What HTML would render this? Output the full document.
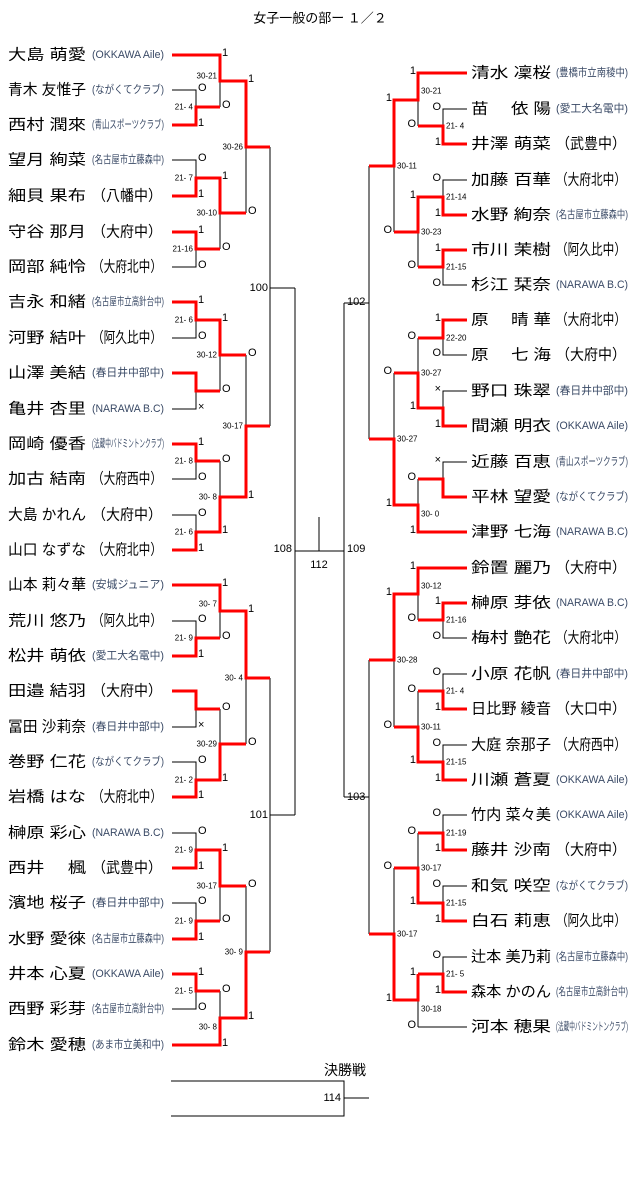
<!DOCTYPE html>
<html><head><meta charset="utf-8"><style>
body{margin:0;background:#fff}
svg{display:block}
text{font-family:"Liberation Sans","Noto Sans CJK JP",sans-serif;dominant-baseline:central}
.n{font-size:15px;fill:#000}
.c{font-size:11px;fill:#3a4a66}
.cb{font-size:15px;fill:#000}
.m{font-size:11px;fill:#000}
.s{font-size:8px;fill:#000}
.l{font-size:11px;fill:#000}
</style></head><body>
<svg width="640" height="1177" viewBox="0 0 640 1177">
<text x="320" y="18" text-anchor="middle" style="font-size:13px">女子一般の部ー １／２</text>

<!-- black skeleton -->
<g stroke="#000" stroke-width="1" fill="none">
<!-- left first round pairs -->
<path d="M172 90H196V125H172M196 107H220 M172 160H196V196H172M196 178H220 M172 232H196V267H172M196 249H220
M172 302H196V338H172M196 320H220 M172 373H196V409H172M196 391H220 M172 444H196V479H172M196 461H220 M172 515H196V550H172M196 532H220
M172 621H196V656H172M196 638H220 M172 691H196V727H172M196 709H220 M172 762H196V797H172M196 780H220
M172 833H196V868H172M196 850H220 M172 903H196V939H172M196 921H220 M172 974H196V1009H172M196 991H220
M172 55H220 M172 585H220 M172 1045H220
M220 55V107 M220 178V249 M220 320V391 M220 461V532 M220 585V638 M220 709V780 M220 850V921 M220 991V1045
M220 81H246 M220 213H246 M220 355H246 M220 497H246 M220 611H246 M220 744H246 M220 886H246 M220 1018H246
M246 81V213 M246 355V497 M246 611V744 M246 886V1018
M246 147H270 M246 426H270 M246 678H270 M246 952H270
M270 147V426 M270 678V952 M270 288H295 M270 815H295
M295 288V815 M295 551H344 M319 517V551 M344 303V797
M369 303H344 M369 797H344 M369 166V439 M369 660V934
M394 100V232 M394 373V505 M394 594V727 M394 868V1000
M394 166H369 M394 439H369 M394 660H369 M394 934H369
M418 73V126 M418 197V267 M418 338V408 M418 479V532 M418 568V620 M418 691V762 M418 833V903 M418 974V1027
M418 100H394 M418 232H394 M418 373H394 M418 505H394 M418 594H394 M418 727H394 M418 868H394 M418 1000H394
M467 73H418 M467 532H418 M467 568H418 M467 1027H418
M467 109H443V144H467M443 126H418 M467 180H443V215H467M443 197H418 M467 250H443V285H467M443 267H418
M467 320H443V355H467M443 338H418 M467 391H443V426H467M443 408H418 M467 462H443V497H467M443 479H418
M467 603H443V638H467M443 620H418 M467 674H443V709H467M443 691H418 M467 745H443V780H467M443 762H418
M467 815H443V850H467M443 833H418 M467 886H443V921H467M443 903H418 M467 957H443V992H467M443 974H418
M171 1081H344V1116H171 M344 1098H369"/>
</g>

<!-- red winner paths -->
<g stroke="#ff0000" stroke-width="3" fill="none" stroke-linejoin="miter">
<path d="M172 55H220V81H246V147H270 M172 125H196V107H220 M172 196H196V178H220V213H246 M172 232H196V249H220
M172 302H196V320H220V355H246 M172 373H196V391H220 M172 444H196V461H220 M172 550H196V532H220V497H246V426H270
M172 585H220V611H246V678H270 M172 656H196V638H220 M172 691H196V709H220 M172 797H196V780H220V744H246
M172 868H196V850H220V886H246 M172 939H196V921H220 M172 974H196V991H220 M172 1045H220V1018H246V952H270
M467 73H418V100H394V166H369 M467 144H443V126H418 M467 215H443V197H418V232H394 M467 250H443V267H418
M467 320H443V338H418 M467 426H443V408H418V373H394 M467 497H443V479H418 M467 532H418V505H394V439H369
M467 568H418V594H394V660H369 M467 603H443V620H418 M467 709H443V691H418 M467 780H443V762H418V727H394
M467 850H443V833H418 M467 921H443V903H418V868H394 M467 992H443V974H418 M418 974V1000H394V934H369"/>
</g>

<!-- left names -->
<g>
<text class="n" x="8" y="55" textLength="78" lengthAdjust="spacingAndGlyphs">大島 萌愛</text><text class="c" x="92" y="55" textLength="72" lengthAdjust="spacingAndGlyphs">(OKKAWA Aile)</text>
<text class="n" x="8" y="90" textLength="78" lengthAdjust="spacingAndGlyphs">青木 友惟子</text><text class="c" x="92" y="90" textLength="72" lengthAdjust="spacingAndGlyphs">(ながくてクラブ)</text>
<text class="n" x="8" y="125" textLength="78" lengthAdjust="spacingAndGlyphs">西村 潤來</text><text class="c" x="92" y="125" textLength="72" lengthAdjust="spacingAndGlyphs">(青山スポーツクラブ)</text>
<text class="n" x="8" y="160" textLength="78" lengthAdjust="spacingAndGlyphs">望月 絢菜</text><text class="c" x="92" y="160" textLength="72" lengthAdjust="spacingAndGlyphs">(名古屋市立藤森中)</text>
<text class="n" x="8" y="196" textLength="78" lengthAdjust="spacingAndGlyphs">細貝 果布</text><text class="cb" x="92" y="196" textLength="70" lengthAdjust="spacingAndGlyphs">（八幡中）</text>
<text class="n" x="8" y="232" textLength="78" lengthAdjust="spacingAndGlyphs">守谷 那月</text><text class="cb" x="92" y="232" textLength="70" lengthAdjust="spacingAndGlyphs">（大府中）</text>
<text class="n" x="8" y="267" textLength="78" lengthAdjust="spacingAndGlyphs">岡部 純怜</text><text class="cb" x="92" y="267" textLength="70" lengthAdjust="spacingAndGlyphs">（大府北中）</text>
<text class="n" x="8" y="302" textLength="78" lengthAdjust="spacingAndGlyphs">吉永 和緒</text><text class="c" x="92" y="302" textLength="72" lengthAdjust="spacingAndGlyphs">(名古屋市立高針台中)</text>
<text class="n" x="8" y="338" textLength="78" lengthAdjust="spacingAndGlyphs">河野 結叶</text><text class="cb" x="92" y="338" textLength="70" lengthAdjust="spacingAndGlyphs">（阿久比中）</text>
<text class="n" x="8" y="373" textLength="78" lengthAdjust="spacingAndGlyphs">山澤 美結</text><text class="c" x="92" y="373" textLength="72" lengthAdjust="spacingAndGlyphs">(春日井中部中)</text>
<text class="n" x="8" y="409" textLength="78" lengthAdjust="spacingAndGlyphs">亀井 杏里</text><text class="c" x="92" y="409" textLength="72" lengthAdjust="spacingAndGlyphs">(NARAWA B.C)</text>
<text class="n" x="8" y="444" textLength="78" lengthAdjust="spacingAndGlyphs">岡崎 優香</text><text class="c" x="92" y="444" textLength="72" lengthAdjust="spacingAndGlyphs">(法蔵中バドミントンクラブ)</text>
<text class="n" x="8" y="479" textLength="78" lengthAdjust="spacingAndGlyphs">加古 結南</text><text class="cb" x="92" y="479" textLength="70" lengthAdjust="spacingAndGlyphs">（大府西中）</text>
<text class="n" x="8" y="515" textLength="78" lengthAdjust="spacingAndGlyphs">大島 かれん</text><text class="cb" x="92" y="515" textLength="70" lengthAdjust="spacingAndGlyphs">（大府中）</text>
<text class="n" x="8" y="550" textLength="78" lengthAdjust="spacingAndGlyphs">山口 なずな</text><text class="cb" x="92" y="550" textLength="70" lengthAdjust="spacingAndGlyphs">（大府北中）</text>
<text class="n" x="8" y="585" textLength="78" lengthAdjust="spacingAndGlyphs">山本 莉々華</text><text class="c" x="92" y="585" textLength="72" lengthAdjust="spacingAndGlyphs">(安城ジュニア)</text>
<text class="n" x="8" y="621" textLength="78" lengthAdjust="spacingAndGlyphs">荒川 悠乃</text><text class="cb" x="92" y="621" textLength="70" lengthAdjust="spacingAndGlyphs">（阿久比中）</text>
<text class="n" x="8" y="656" textLength="78" lengthAdjust="spacingAndGlyphs">松井 萌依</text><text class="c" x="92" y="656" textLength="72" lengthAdjust="spacingAndGlyphs">(愛工大名電中)</text>
<text class="n" x="8" y="691" textLength="78" lengthAdjust="spacingAndGlyphs">田邉 結羽</text><text class="cb" x="92" y="691" textLength="70" lengthAdjust="spacingAndGlyphs">（大府中）</text>
<text class="n" x="8" y="727" textLength="78" lengthAdjust="spacingAndGlyphs">冨田 沙莉奈</text><text class="c" x="92" y="727" textLength="72" lengthAdjust="spacingAndGlyphs">(春日井中部中)</text>
<text class="n" x="8" y="762" textLength="78" lengthAdjust="spacingAndGlyphs">巻野 仁花</text><text class="c" x="92" y="762" textLength="72" lengthAdjust="spacingAndGlyphs">(ながくてクラブ)</text>
<text class="n" x="8" y="797" textLength="78" lengthAdjust="spacingAndGlyphs">岩橋 はな</text><text class="cb" x="92" y="797" textLength="70" lengthAdjust="spacingAndGlyphs">（大府北中）</text>
<text class="n" x="8" y="833" textLength="78" lengthAdjust="spacingAndGlyphs">榊原 彩心</text><text class="c" x="92" y="833" textLength="72" lengthAdjust="spacingAndGlyphs">(NARAWA B.C)</text>
<text class="n" x="8" y="868" textLength="78" lengthAdjust="spacingAndGlyphs">西井　 楓</text><text class="cb" x="92" y="868" textLength="70" lengthAdjust="spacingAndGlyphs">（武豊中）</text>
<text class="n" x="8" y="903" textLength="78" lengthAdjust="spacingAndGlyphs">濱地 桜子</text><text class="c" x="92" y="903" textLength="72" lengthAdjust="spacingAndGlyphs">(春日井中部中)</text>
<text class="n" x="8" y="939" textLength="78" lengthAdjust="spacingAndGlyphs">水野 愛徠</text><text class="c" x="92" y="939" textLength="72" lengthAdjust="spacingAndGlyphs">(名古屋市立藤森中)</text>
<text class="n" x="8" y="974" textLength="78" lengthAdjust="spacingAndGlyphs">井本 心夏</text><text class="c" x="92" y="974" textLength="72" lengthAdjust="spacingAndGlyphs">(OKKAWA Aile)</text>
<text class="n" x="8" y="1009" textLength="78" lengthAdjust="spacingAndGlyphs">西野 彩芽</text><text class="c" x="92" y="1009" textLength="72" lengthAdjust="spacingAndGlyphs">(名古屋市立高針台中)</text>
<text class="n" x="8" y="1045" textLength="78" lengthAdjust="spacingAndGlyphs">鈴木 愛穂</text><text class="c" x="92" y="1045" textLength="72" lengthAdjust="spacingAndGlyphs">(あま市立美和中)</text>
</g>

<!-- right names -->
<g>
<text class="n" x="471" y="73" textLength="80" lengthAdjust="spacingAndGlyphs">清水 凜桜</text><text class="c" x="556" y="73" textLength="72" lengthAdjust="spacingAndGlyphs">(豊橋市立南稜中)</text>
<text class="n" x="471" y="109" textLength="80" lengthAdjust="spacingAndGlyphs">苗　 依 陽</text><text class="c" x="556" y="109" textLength="72" lengthAdjust="spacingAndGlyphs">(愛工大名電中)</text>
<text class="n" x="471" y="144" textLength="80" lengthAdjust="spacingAndGlyphs">井澤 萌菜</text><text class="cb" x="556" y="144" textLength="70" lengthAdjust="spacingAndGlyphs">（武豊中）</text>
<text class="n" x="471" y="180" textLength="80" lengthAdjust="spacingAndGlyphs">加藤 百華</text><text class="cb" x="556" y="180" textLength="70" lengthAdjust="spacingAndGlyphs">（大府北中）</text>
<text class="n" x="471" y="215" textLength="80" lengthAdjust="spacingAndGlyphs">水野 絢奈</text><text class="c" x="556" y="215" textLength="72" lengthAdjust="spacingAndGlyphs">(名古屋市立藤森中)</text>
<text class="n" x="471" y="250" textLength="80" lengthAdjust="spacingAndGlyphs">市川 茉樹</text><text class="cb" x="556" y="250" textLength="70" lengthAdjust="spacingAndGlyphs">（阿久比中）</text>
<text class="n" x="471" y="285" textLength="80" lengthAdjust="spacingAndGlyphs">杉江 栞奈</text><text class="c" x="556" y="285" textLength="72" lengthAdjust="spacingAndGlyphs">(NARAWA B.C)</text>
<text class="n" x="471" y="320" textLength="80" lengthAdjust="spacingAndGlyphs">原　 晴 華</text><text class="cb" x="556" y="320" textLength="70" lengthAdjust="spacingAndGlyphs">（大府北中）</text>
<text class="n" x="471" y="355" textLength="80" lengthAdjust="spacingAndGlyphs">原　 七 海</text><text class="cb" x="556" y="355" textLength="70" lengthAdjust="spacingAndGlyphs">（大府中）</text>
<text class="n" x="471" y="391" textLength="80" lengthAdjust="spacingAndGlyphs">野口 珠翠</text><text class="c" x="556" y="391" textLength="72" lengthAdjust="spacingAndGlyphs">(春日井中部中)</text>
<text class="n" x="471" y="426" textLength="80" lengthAdjust="spacingAndGlyphs">間瀬 明衣</text><text class="c" x="556" y="426" textLength="72" lengthAdjust="spacingAndGlyphs">(OKKAWA Aile)</text>
<text class="n" x="471" y="462" textLength="80" lengthAdjust="spacingAndGlyphs">近藤 百恵</text><text class="c" x="556" y="462" textLength="72" lengthAdjust="spacingAndGlyphs">(青山スポーツクラブ)</text>
<text class="n" x="471" y="497" textLength="80" lengthAdjust="spacingAndGlyphs">平林 望愛</text><text class="c" x="556" y="497" textLength="72" lengthAdjust="spacingAndGlyphs">(ながくてクラブ)</text>
<text class="n" x="471" y="532" textLength="80" lengthAdjust="spacingAndGlyphs">津野 七海</text><text class="c" x="556" y="532" textLength="72" lengthAdjust="spacingAndGlyphs">(NARAWA B.C)</text>
<text class="n" x="471" y="568" textLength="80" lengthAdjust="spacingAndGlyphs">鈴置 麗乃</text><text class="cb" x="556" y="568" textLength="70" lengthAdjust="spacingAndGlyphs">（大府中）</text>
<text class="n" x="471" y="603" textLength="80" lengthAdjust="spacingAndGlyphs">榊原 芽依</text><text class="c" x="556" y="603" textLength="72" lengthAdjust="spacingAndGlyphs">(NARAWA B.C)</text>
<text class="n" x="471" y="638" textLength="80" lengthAdjust="spacingAndGlyphs">梅村 艶花</text><text class="cb" x="556" y="638" textLength="70" lengthAdjust="spacingAndGlyphs">（大府北中）</text>
<text class="n" x="471" y="674" textLength="80" lengthAdjust="spacingAndGlyphs">小原 花帆</text><text class="c" x="556" y="674" textLength="72" lengthAdjust="spacingAndGlyphs">(春日井中部中)</text>
<text class="n" x="471" y="709" textLength="80" lengthAdjust="spacingAndGlyphs">日比野 綾音</text><text class="cb" x="556" y="709" textLength="70" lengthAdjust="spacingAndGlyphs">（大口中）</text>
<text class="n" x="471" y="745" textLength="80" lengthAdjust="spacingAndGlyphs">大庭 奈那子</text><text class="cb" x="556" y="745" textLength="70" lengthAdjust="spacingAndGlyphs">（大府西中）</text>
<text class="n" x="471" y="780" textLength="80" lengthAdjust="spacingAndGlyphs">川瀬 蒼夏</text><text class="c" x="556" y="780" textLength="72" lengthAdjust="spacingAndGlyphs">(OKKAWA Aile)</text>
<text class="n" x="471" y="815" textLength="80" lengthAdjust="spacingAndGlyphs">竹内 菜々美</text><text class="c" x="556" y="815" textLength="72" lengthAdjust="spacingAndGlyphs">(OKKAWA Aile)</text>
<text class="n" x="471" y="850" textLength="80" lengthAdjust="spacingAndGlyphs">藤井 沙南</text><text class="cb" x="556" y="850" textLength="70" lengthAdjust="spacingAndGlyphs">（大府中）</text>
<text class="n" x="471" y="886" textLength="80" lengthAdjust="spacingAndGlyphs">和気 咲空</text><text class="c" x="556" y="886" textLength="72" lengthAdjust="spacingAndGlyphs">(ながくてクラブ)</text>
<text class="n" x="471" y="921" textLength="80" lengthAdjust="spacingAndGlyphs">白石 莉恵</text><text class="cb" x="556" y="921" textLength="70" lengthAdjust="spacingAndGlyphs">（阿久比中）</text>
<text class="n" x="471" y="957" textLength="80" lengthAdjust="spacingAndGlyphs">辻本 美乃莉</text><text class="c" x="556" y="957" textLength="72" lengthAdjust="spacingAndGlyphs">(名古屋市立藤森中)</text>
<text class="n" x="471" y="992" textLength="80" lengthAdjust="spacingAndGlyphs">森本 かのん</text><text class="c" x="556" y="992" textLength="72" lengthAdjust="spacingAndGlyphs">(名古屋市立高針台中)</text>
<text class="n" x="471" y="1027" textLength="80" lengthAdjust="spacingAndGlyphs">河本 穂果</text><text class="c" x="556" y="1027" textLength="72" lengthAdjust="spacingAndGlyphs">(法蔵中バドミントンクラブ)</text>
</g>

<!-- left marks -->
<g class="m">
<text class="m" x="222" y="53">1</text><text class="m" x="198" y="88">O</text><text class="m" x="198" y="123">1</text><text class="m" x="222" y="105">O</text>
<text class="m" x="248" y="79">1</text><text class="m" x="248" y="211">O</text>
<text class="m" x="198" y="158">O</text><text class="m" x="198" y="194">1</text><text class="m" x="222" y="176">1</text>
<text class="m" x="198" y="230">1</text><text class="m" x="198" y="265">O</text><text class="m" x="222" y="247">O</text>
<text class="m" x="198" y="300">1</text><text class="m" x="198" y="336">O</text><text class="m" x="222" y="318">1</text>
<text class="m" x="198" y="407">×</text><text class="m" x="222" y="389">O</text><text class="m" x="248" y="353">O</text>
<text class="m" x="198" y="442">1</text><text class="m" x="198" y="477">O</text><text class="m" x="222" y="459">O</text>
<text class="m" x="198" y="513">O</text><text class="m" x="198" y="548">1</text><text class="m" x="222" y="530">1</text><text class="m" x="248" y="495">1</text>
<text class="m" x="222" y="583">1</text><text class="m" x="198" y="619">O</text><text class="m" x="198" y="654">1</text><text class="m" x="222" y="636">O</text><text class="m" x="248" y="609">1</text>
<text class="m" x="198" y="725">×</text><text class="m" x="222" y="707">O</text><text class="m" x="198" y="760">O</text><text class="m" x="198" y="795">1</text><text class="m" x="222" y="778">1</text><text class="m" x="248" y="742">O</text>
<text class="m" x="198" y="831">O</text><text class="m" x="198" y="866">1</text><text class="m" x="222" y="848">1</text>
<text class="m" x="198" y="901">O</text><text class="m" x="198" y="937">1</text><text class="m" x="222" y="919">O</text><text class="m" x="248" y="884">O</text>
<text class="m" x="198" y="972">1</text><text class="m" x="198" y="1007">O</text><text class="m" x="222" y="989">O</text><text class="m" x="222" y="1043">1</text><text class="m" x="248" y="1016">1</text>
</g>

<!-- right marks -->
<g text-anchor="end">
<text class="m" x="416" y="71">1</text><text class="m" x="441" y="107">O</text><text class="m" x="441" y="142">1</text><text class="m" x="416" y="124">O</text><text class="m" x="392" y="98">1</text>
<text class="m" x="441" y="178">O</text><text class="m" x="441" y="213">1</text><text class="m" x="416" y="195">1</text>
<text class="m" x="441" y="248">1</text><text class="m" x="441" y="283">O</text><text class="m" x="416" y="265">O</text><text class="m" x="392" y="230">O</text>
<text class="m" x="441" y="318">1</text><text class="m" x="441" y="353">O</text><text class="m" x="416" y="336">O</text>
<text class="m" x="441" y="389">×</text><text class="m" x="441" y="424">1</text><text class="m" x="416" y="406">1</text><text class="m" x="392" y="371">O</text>
<text class="m" x="441" y="460">×</text><text class="m" x="416" y="477">O</text><text class="m" x="416" y="530">1</text><text class="m" x="392" y="503">1</text>
<text class="m" x="416" y="566">1</text><text class="m" x="441" y="601">1</text><text class="m" x="441" y="636">O</text><text class="m" x="416" y="618">O</text><text class="m" x="392" y="592">1</text>
<text class="m" x="441" y="672">O</text><text class="m" x="441" y="707">1</text><text class="m" x="416" y="689">O</text>
<text class="m" x="441" y="743">O</text><text class="m" x="441" y="778">1</text><text class="m" x="416" y="760">1</text><text class="m" x="392" y="725">O</text>
<text class="m" x="441" y="813">O</text><text class="m" x="441" y="848">1</text><text class="m" x="416" y="831">O</text>
<text class="m" x="441" y="884">O</text><text class="m" x="441" y="919">1</text><text class="m" x="416" y="901">1</text><text class="m" x="392" y="866">O</text>
<text class="m" x="441" y="955">O</text><text class="m" x="441" y="990">1</text><text class="m" x="416" y="972">1</text><text class="m" x="416" y="1025">O</text><text class="m" x="392" y="998">1</text>
</g>

<!-- left scores -->
<g text-anchor="end">
<text class="s" x="193" y="107">21- 4</text><text class="s" x="217" y="76">30-21</text><text class="s" x="193" y="178">21- 7</text><text class="s" x="193" y="249">21-16</text><text class="s" x="217" y="213">30-10</text><text class="s" x="243" y="147">30-26</text>
<text class="s" x="193" y="320">21- 6</text><text class="s" x="217" y="355">30-12</text><text class="s" x="193" y="461">21- 8</text><text class="s" x="217" y="497">30- 8</text><text class="s" x="193" y="532">21- 6</text><text class="s" x="243" y="426">30-17</text>
<text class="s" x="217" y="604">30- 7</text><text class="s" x="193" y="638">21- 9</text><text class="s" x="243" y="678">30- 4</text><text class="s" x="217" y="744">30-29</text><text class="s" x="193" y="780">21- 2</text>
<text class="s" x="193" y="850">21- 9</text><text class="s" x="217" y="886">30-17</text><text class="s" x="193" y="921">21- 9</text><text class="s" x="243" y="952">30- 9</text><text class="s" x="193" y="991">21- 5</text><text class="s" x="217" y="1027">30- 8</text>
</g>

<!-- right scores -->
<g>
<text class="s" x="446" y="126">21- 4</text><text class="s" x="421" y="91">30-21</text><text class="s" x="446" y="197">21-14</text><text class="s" x="446" y="267">21-15</text><text class="s" x="421" y="232">30-23</text><text class="s" x="397" y="166">30-11</text>
<text class="s" x="446" y="338">22-20</text><text class="s" x="421" y="373">30-27</text><text class="s" x="421" y="514">30- 0</text><text class="s" x="397" y="439">30-27</text>
<text class="s" x="421" y="586">30-12</text><text class="s" x="446" y="620">21-16</text><text class="s" x="397" y="660">30-28</text><text class="s" x="446" y="691">21- 4</text><text class="s" x="446" y="762">21-15</text><text class="s" x="421" y="727">30-11</text>
<text class="s" x="446" y="833">21-19</text><text class="s" x="446" y="903">21-15</text><text class="s" x="421" y="868">30-17</text><text class="s" x="446" y="974">21- 5</text><text class="s" x="421" y="1009">30-18</text><text class="s" x="397" y="934">30-17</text>
</g>

<!-- match numbers -->
<text class="l" x="268" y="288" text-anchor="end">100</text>
<text class="l" x="268" y="815" text-anchor="end">101</text>
<text class="l" x="347" y="302">102</text>
<text class="l" x="347" y="797">103</text>
<text class="l" x="292" y="549" text-anchor="end">108</text>
<text class="l" x="347" y="549">109</text>
<text class="l" x="319" y="565" text-anchor="middle">112</text>
<text class="l" x="341" y="1098" text-anchor="end">114</text>
<text x="345" y="1070" text-anchor="middle" style="font-size:14px">決勝戦</text>
</svg>
</body></html>
